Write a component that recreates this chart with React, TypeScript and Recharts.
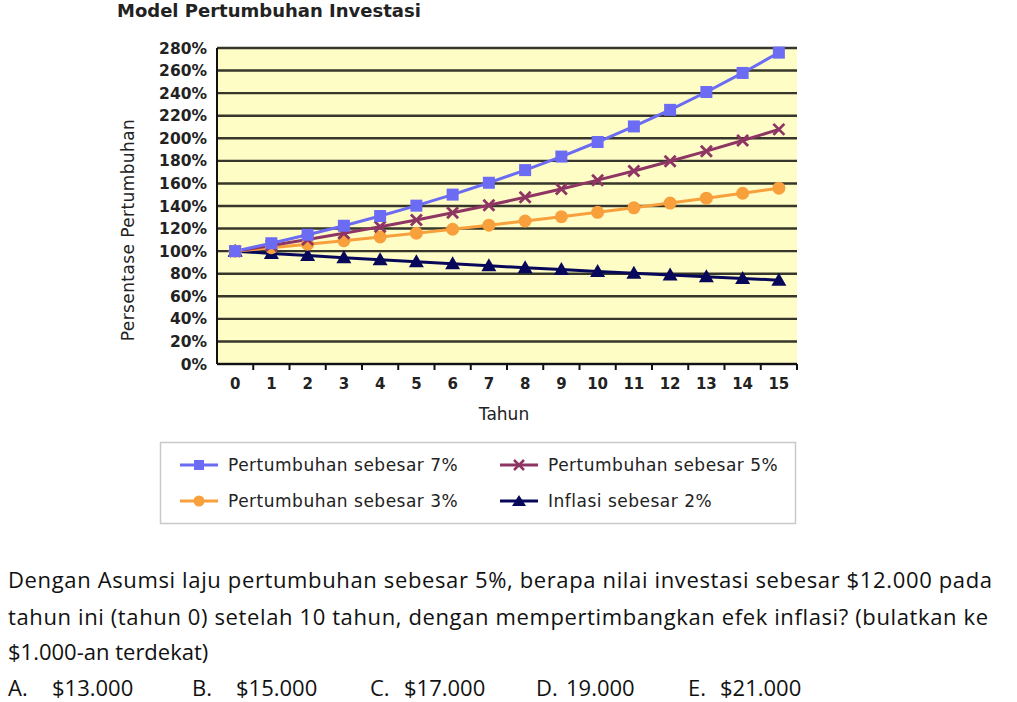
import React from 'react';
import { LineChart, Line, XAxis, YAxis, CartesianGrid } from 'recharts';

const years = ['0', '1', '2', '3', '4', '5', '6', '7', '8', '9', '10', '11', '12', '13', '14', '15'];
const growth7 = [100, 107, 114.5, 122.5, 131.1, 140.3, 150.1, 160.6, 171.8, 183.8, 196.7, 210.5, 225.2, 241, 257.9, 275.9];
const growth5 = [100, 105, 110.3, 115.8, 121.6, 127.6, 134, 140.7, 147.7, 155.1, 162.9, 171, 179.6, 188.6, 198, 207.9];
const growth3 = [100, 103, 106.1, 109.3, 112.6, 115.9, 119.4, 123, 126.7, 130.5, 134.4, 138.4, 142.6, 146.9, 151.3, 155.8];
const inflation2 = [100, 98, 96.1, 94.2, 92.4, 90.6, 88.8, 87.1, 85.3, 83.7, 82, 80.4, 78.8, 77.3, 75.8, 74.3];
const yTicks = [0, 20, 40, 60, 80, 100, 120, 140, 160, 180, 200, 220, 240, 260, 280];

const seriesNames = {
  g7: 'Pertumbuhan sebesar 7%',
  g5: 'Pertumbuhan sebesar 5%',
  g3: 'Pertumbuhan sebesar 3%',
  inf: 'Inflasi sebesar 2%',
};

const data = years.map((y, i) => ({
  year: y,
  g7: growth7[i],
  g5: growth5[i],
  g3: growth3[i],
  inf: inflation2[i],
}));

const C_BLUE = '#6B6BF4';
const C_PURPLE = '#8E3563';
const C_ORANGE = '#F8A03C';
const C_NAVY = '#08085A';

const CHART_W = 830;
const CHART_H = 450;
const MARGIN = { top: 48, right: 33, left: 117, bottom: 16 };
const Y_AXIS_W = 100;
const X_AXIS_H = 70;
const PLOT_W = CHART_W - MARGIN.left - Y_AXIS_W - MARGIN.right;

const SquareDot = (p: any) => (
  <rect key={`s${p.index}`} x={p.cx - 6} y={p.cy - 6} width={12} height={12} fill={C_BLUE} />
);
const CrossDot = (p: any) => (
  <g key={`x${p.index}`}>
    <line x1={p.cx - 5.5} y1={p.cy - 5.5} x2={p.cx + 5.5} y2={p.cy + 5.5} stroke={C_PURPLE} strokeWidth={2.8} />
    <line x1={p.cx - 5.5} y1={p.cy + 5.5} x2={p.cx + 5.5} y2={p.cy - 5.5} stroke={C_PURPLE} strokeWidth={2.8} />
  </g>
);
const CircleDot = (p: any) => <circle key={`c${p.index}`} cx={p.cx} cy={p.cy} r={6.5} fill={C_ORANGE} />;
const TriangleDot = (p: any) => (
  <path
    key={`t${p.index}`}
    d={`M${p.cx},${p.cy - 7.5} L${p.cx + 7.5},${p.cy + 5.5} L${p.cx - 7.5},${p.cy + 5.5} Z`}
    fill={C_NAVY}
  />
);

const XTick = (props: any) => {
  const { x, y, payload } = props;
  const bw = PLOT_W / years.length;
  return (
    <g>
      <line x1={x + bw / 2} x2={x + bw / 2} y1={y} y2={y + 6} stroke="#111" strokeWidth={2} />
      <text
        x={x}
        y={y + 25}
        textAnchor="middle"
        fontFamily="DejaVu Sans"
        fontWeight="bold"
        fontSize={15}
        fill="#222"
      >
        {payload.value}
      </text>
    </g>
  );
};

const YLabel = (p: any) => {
  const vb = p.viewBox;
  const cx = vb.x + 11;
  const cy = vb.y + vb.height / 2 + 24;
  return (
    <text
      x={cx}
      y={cy}
      transform={`rotate(-90 ${cx} ${cy})`}
      textAnchor="middle"
      dominantBaseline="central"
      fontFamily="DejaVu Sans"
      fontSize={17}
      letterSpacing={0.4}
      fill="#222"
    >
      Persentase Pertumbuhan
    </text>
  );
};

const XLabel = (p: any) => {
  const vb = p.viewBox;
  return (
    <text
      x={vb.x + vb.width / 2 - 3}
      y={vb.y + 56}
      textAnchor="middle"
      fontFamily="DejaVu Sans"
      fontSize={17}
      fill="#222"
    >
      Tahun
    </text>
  );
};

const LegendIcon = ({ x, y, kind }: { x: number; y: number; kind: string }) => {
  const mx = x + 19;
  let color = C_BLUE;
  let marker: any = null;
  if (kind === 'g7') {
    color = C_BLUE;
    marker = <rect x={mx - 5} y={y - 5} width={10} height={10} fill={C_BLUE} />;
  } else if (kind === 'g5') {
    color = C_PURPLE;
    marker = (
      <g>
        <line x1={mx - 5} y1={y - 5} x2={mx + 5} y2={y + 5} stroke={C_PURPLE} strokeWidth={2.5} />
        <line x1={mx - 5} y1={y + 5} x2={mx + 5} y2={y - 5} stroke={C_PURPLE} strokeWidth={2.5} />
      </g>
    );
  } else if (kind === 'g3') {
    color = C_ORANGE;
    marker = <circle cx={mx} cy={y} r={5.5} fill={C_ORANGE} />;
  } else {
    color = C_NAVY;
    marker = <path d={`M${mx},${y - 6} L${mx + 7},${y + 5} L${mx - 7},${y + 5} Z`} fill={C_NAVY} />;
  }
  return (
    <g>
      <line x1={x} x2={x + 38} y1={y} y2={y} stroke={color} strokeWidth={3} />
      {marker}
    </g>
  );
};

const legendItems = [
  { key: 'g7', col: 0, row: 0 },
  { key: 'g5', col: 1, row: 0 },
  { key: 'g3', col: 0, row: 1 },
  { key: 'inf', col: 1, row: 1 },
];

const qFont = '"Open Sans", "Noto Sans", sans-serif';

export default function App() {
  return (
    <div
      style={{
        position: 'fixed',
        left: 0,
        top: 0,
        width: 1017,
        height: 702,
        overflow: 'hidden',
        background: '#fff',
      }}
    >
      <div style={{ position: 'absolute', left: 0, top: 0 }}>
        <LineChart width={CHART_W} height={CHART_H} data={data} margin={MARGIN}>
          <CartesianGrid
            horizontal
            vertical={false}
            stroke="#36362a"
            strokeWidth={2.4}
            fill="#FFFDC6"
            fillOpacity={1}
          />
          <XAxis
            dataKey="year"
            type="category"
            scale="band"
            height={X_AXIS_H}
            interval={0}
            tickSize={0}
            tickMargin={0}
            tickLine={false}
            axisLine={{ stroke: '#111', strokeWidth: 2 }}
            tick={<XTick />}
            label={{ content: <XLabel /> } as any}
          />
          <YAxis
            width={Y_AXIS_W}
            type="number"
            domain={[0, 280]}
            ticks={yTicks}
            interval={0}
            tickFormatter={(v: number) => `${v}%`}
            tickSize={0}
            tickMargin={10}
            tickLine={false}
            axisLine={{ stroke: '#111', strokeWidth: 2 }}
            tick={{ fontFamily: 'DejaVu Sans', fontWeight: 'bold', fontSize: 15.5, fill: '#222' }}
            label={{ content: <YLabel /> } as any}
          />
          <Line
            dataKey="inf"
            name={seriesNames.inf}
            stroke={C_NAVY}
            strokeWidth={3}
            dot={TriangleDot}
            activeDot={false}
            isAnimationActive={false}
          />
          <Line
            dataKey="g3"
            name={seriesNames.g3}
            stroke={C_ORANGE}
            strokeWidth={3}
            dot={CircleDot}
            activeDot={false}
            isAnimationActive={false}
          />
          <Line
            dataKey="g5"
            name={seriesNames.g5}
            stroke={C_PURPLE}
            strokeWidth={3}
            dot={CrossDot}
            activeDot={false}
            isAnimationActive={false}
          />
          <Line
            dataKey="g7"
            name={seriesNames.g7}
            stroke={C_BLUE}
            strokeWidth={3}
            dot={SquareDot}
            activeDot={false}
            isAnimationActive={false}
          />
        </LineChart>
      </div>
      <svg
        width={1017}
        height={702}
        style={{ position: 'absolute', left: 0, top: 0, pointerEvents: 'none' }}
      >
        <text x={117} y={17} fontFamily="DejaVu Sans" fontWeight="bold" fontSize={18} fill="#222">
          Model Pertumbuhan Investasi
        </text>
        <rect x={160.5} y={442.5} width={635} height={81} fill="none" stroke="#c9c9c9" strokeWidth={1.5} />
        {legendItems.map((it) => {
          const ix = it.col === 0 ? 180 : 500;
          const tx = it.col === 0 ? 228 : 548;
          const cy = it.row === 0 ? 465 : 501;
          return (
            <g key={it.key}>
              <LegendIcon x={ix} y={cy} kind={it.key} />
              <text
                x={tx}
                y={cy + 6}
                fontFamily="DejaVu Sans"
                fontSize={17}
                letterSpacing={0.5}
                fill="#222"
              >
                {(seriesNames as any)[it.key]}
              </text>
            </g>
          );
        })}
        <g fontFamily={qFont} fontSize={22} fill="#111" style={{ fontVariantLigatures: 'none' }}>
          <text x={8} y={588} textLength={984} lengthAdjust="spacing">
            Dengan Asumsi laju pertumbuhan sebesar 5%, berapa nilai investasi sebesar $12.000 pada
          </text>
          <text x={8} y={625} textLength={980} lengthAdjust="spacing">
            tahun ini (tahun 0) setelah 10 tahun, dengan mempertimbangkan efek inflasi? (bulatkan ke
          </text>
          <text x={8} y={660}>$1.000-an terdekat)</text>
          <text x={8} y={696}>A.</text>
          <text x={52} y={696}>$13.000</text>
          <text x={192} y={696}>B.</text>
          <text x={236} y={696}>$15.000</text>
          <text x={370} y={696}>C.</text>
          <text x={404} y={696}>$17.000</text>
          <text x={536} y={696}>D.</text>
          <text x={566} y={696}>19.000</text>
          <text x={688} y={696}>E.</text>
          <text x={720} y={696}>$21.000</text>
        </g>
      </svg>
    </div>
  );
}
